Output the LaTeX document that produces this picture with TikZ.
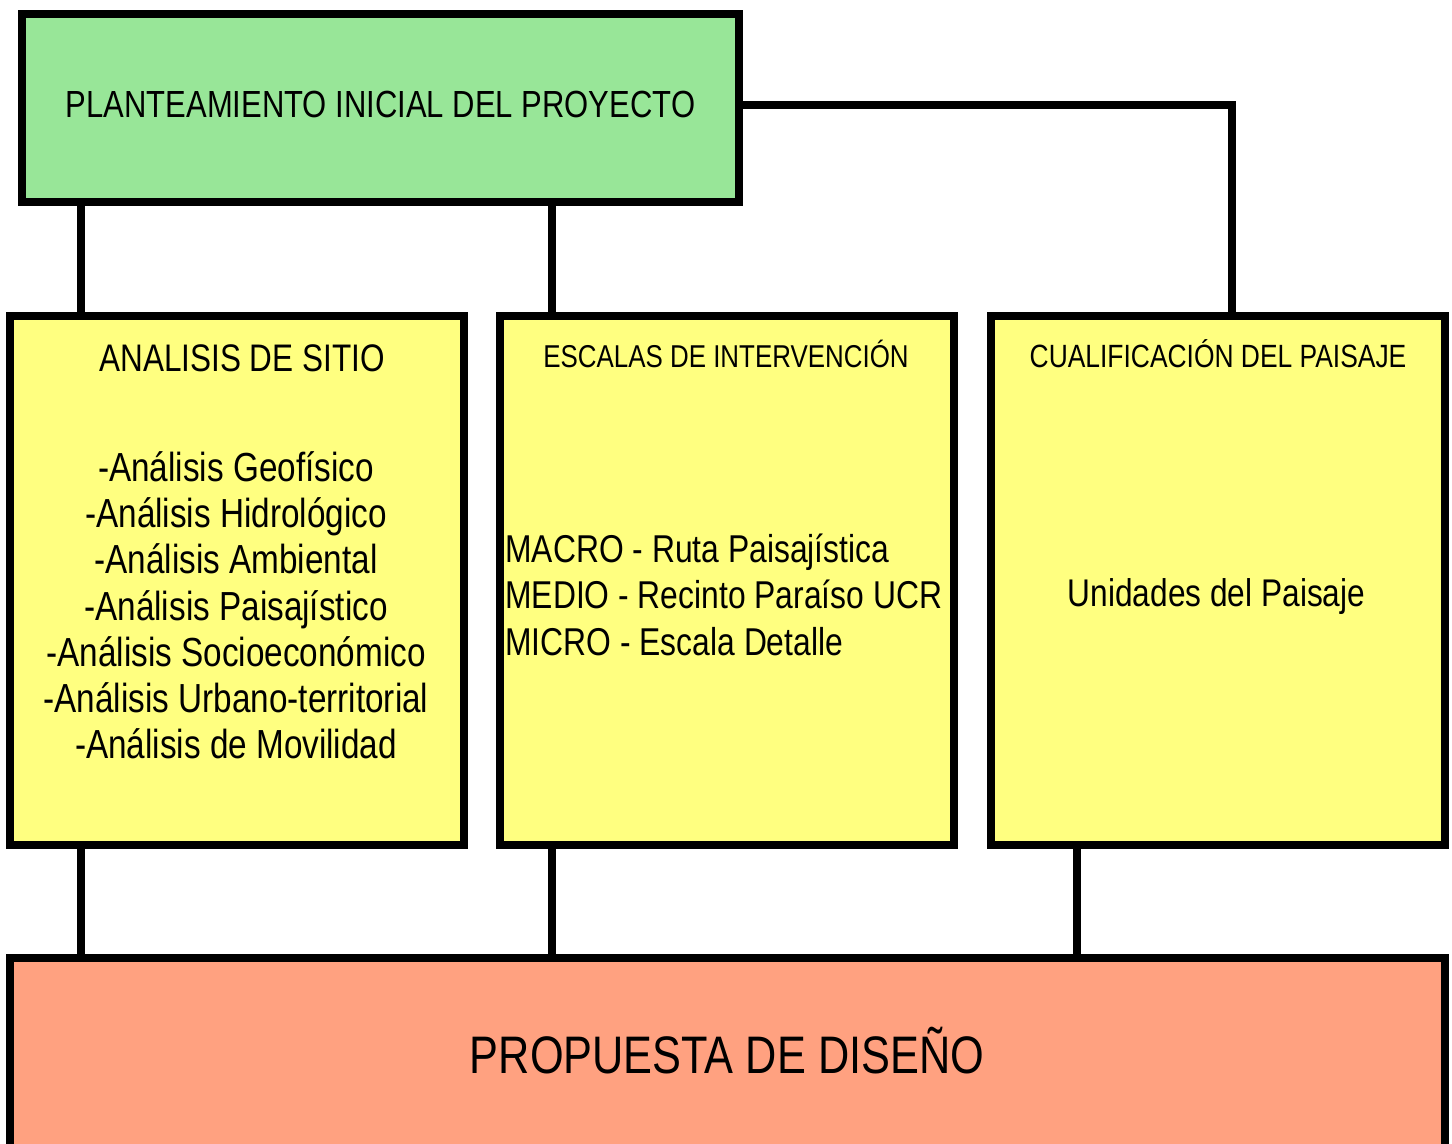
\documentclass[tikz,border=0pt]{standalone}
\usepackage{fontspec}
\setmainfont[FakeStretch=0.82]{Liberation Sans}
\definecolor{boxgreen}{RGB}{152,230,152}
\definecolor{boxyellow}{RGB}{255,255,128}
\definecolor{boxsalmon}{RGB}{255,161,128}
\begin{document}
\begin{tikzpicture}[x=0.5pt,y=-0.5pt,
  box/.style n args={3}{draw=black, line width=4pt, rectangle, inner sep=0pt,
    fill=#1, minimum width=#2, minimum height=#3},
  conn/.style={draw=black, line width=3.6pt},
  txt/.style={inner sep=0pt, anchor=base},
  txtw/.style={inner sep=0pt, anchor=base west}]
\useasboundingbox (0,0) rectangle (1452,1144);
\clip (0,0) rectangle (1452,1144);
% boxes
\node[box={boxgreen}{358.5pt}{94pt}] (green) at (380.5,108) {};
\node[box={boxyellow}{227pt}{264.5pt}] (box1) at (237,580.5) {};
\node[box={boxyellow}{227pt}{264.5pt}] (box2) at (727,580.5) {};
\node[box={boxyellow}{227pt}{264.5pt}] (box3) at (1218,580.5) {};
\node[box={boxsalmon}{717.5pt}{106pt}] (prop) at (727.5,1064) {};
% connector columns
\coordinate (x1) at (81,0);
\coordinate (x2) at (552,0);
\coordinate (x3) at (1232,0);
\coordinate (x4) at (1077,0);
\draw[conn] (green.south -| x1) -- (box1.north -| x1);
\draw[conn] (green.south -| x2) -- (box2.north -| x2);
\draw[conn] ([yshift=1.5pt]green.east) -| (box3.north -| x3);
\draw[conn] (box1.south -| x1) -- (prop.north -| x1);
\draw[conn] (box2.south -| x2) -- (prop.north -| x2);
\draw[conn] (box3.south -| x4) -- (prop.north -| x4);
% texts
\node[txt, font=\fontsize{18.9}{22}\selectfont] (t0) at (380.5,118) {PLANTEAMIENTO INICIAL DEL PROYECTO};
\node[txt, font=\fontsize{19.2}{22}\selectfont] (t1) at (242,372) {ANALISIS DE SITIO};
\foreach \t [count=\i] in {-Análisis Geofísico,-Análisis Hidrológico,-Análisis Ambiental,-Análisis Paisajístico,-Análisis Socioeconómico,-Análisis Urbano-territorial,-Análisis de Movilidad}
  \node[txt, font=\fontsize{20.3}{23}\selectfont] (l\i) at (236,{482+46*(\i-1)}) {\t};
\node[txt, font=\fontsize{15.8}{19}\selectfont] (t2) at (726,368) {ESCALAS DE INTERVENCIÓN};
\node[txtw, font=\fontsize{19.4}{23}\selectfont] (m1) at (505,563) {MACRO - Ruta Paisajística};
\node[txtw, font=\fontsize{19.4}{23}\selectfont] (m2) at (505,609) {MEDIO - Recinto Paraíso UCR};
\node[txtw, font=\fontsize{19.4}{23}\selectfont] (m3) at (505,655) {MICRO - Escala Detalle};
\node[txt, font=\fontsize{16.1}{19}\selectfont] (t3) at (1218,368) {CUALIFICACIÓN DEL PAISAJE};
\node[txt, font=\fontsize{19.3}{23}\selectfont] (u1) at (1216.5,607) {Unidades del Paisaje};
\node[txt, font=\fontsize{26.4}{30}\selectfont] (t4) at (727,1073) {PROPUESTA DE DISEÑO};
\end{tikzpicture}
\end{document}
